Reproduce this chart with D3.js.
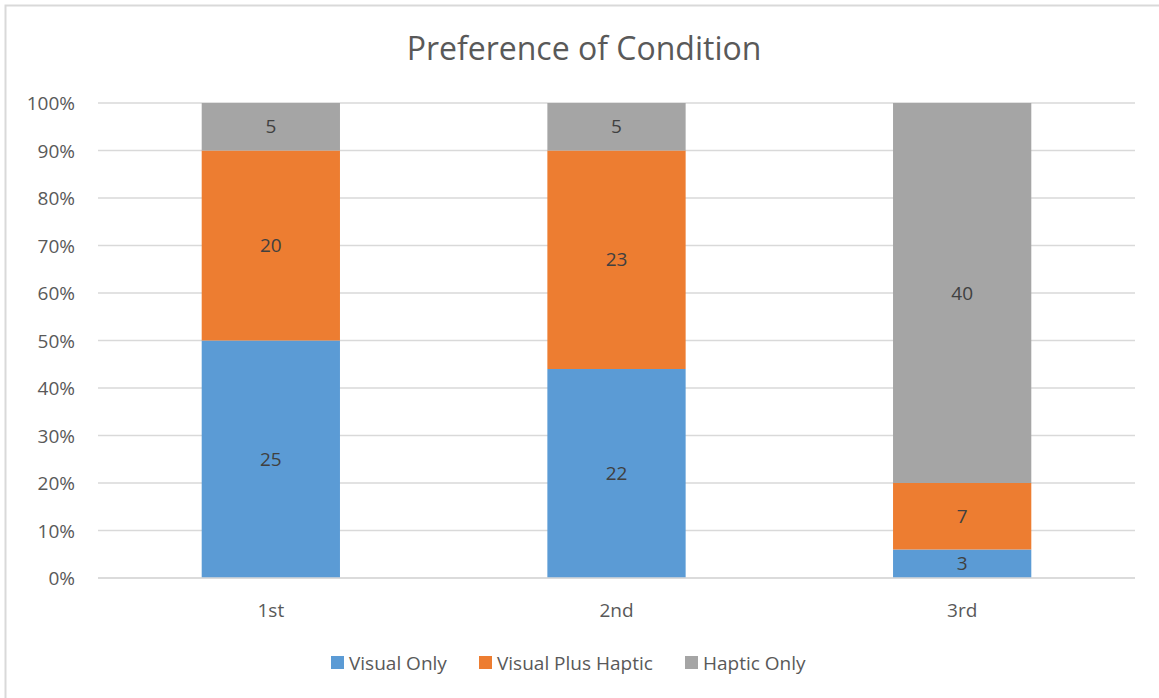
<!DOCTYPE html>
<html>
<head>
<meta charset="utf-8">
<script src="https://cdn.jsdelivr.net/npm/d3@7"></script>
<style>
  body { margin: 0; background: #fff; }
  svg { display: block; font-family: "Open Sans", "Liberation Sans", sans-serif; }
</style>
</head>
<body>
<svg id="chart" width="1159" height="698"></svg>
<script>
const categories = ["1st", "2nd", "3rd"];
const seriesNames = ["Visual Only", "Visual Plus Haptic", "Haptic Only"];
const visualOnly = [25, 22, 3];
const visualPlusHaptic = [20, 23, 7];
const hapticOnly = [5, 5, 40];
const yTicks = [0, 0.1, 0.2, 0.3, 0.4, 0.5, 0.6, 0.7, 0.8, 0.9, 1.0];
const colors = ["#5b9bd5", "#ed7d31", "#a5a5a5"];

const svg = d3.select("#chart");
const plot = { left: 98, right: 1135, top: 103, bottom: 578 };
const textColor = "#595959";
const fs = 19;

// chart border
svg.append("rect").attr("x", 5.5).attr("y", 5.5).attr("width", 1170).attr("height", 720)
  .attr("fill", "#fff").attr("stroke", "#d9d9d9").attr("stroke-width", 2);

const rows = categories.map((c, i) => ({
  cat: c,
  "Visual Only": visualOnly[i],
  "Visual Plus Haptic": visualPlusHaptic[i],
  "Haptic Only": hapticOnly[i]
}));
const normalized = rows.map(r => {
  const tot = seriesNames.reduce((s, k) => s + r[k], 0);
  const o = { cat: r.cat };
  seriesNames.forEach(k => o[k] = r[k] / tot);
  return o;
});
const stack = d3.stack().keys(seriesNames)(normalized);

const x = d3.scaleBand().domain(categories).range([plot.left, plot.right]).paddingInner(0.6).paddingOuter(0.3);
const y = d3.scaleLinear().domain([0, 1]).range([plot.bottom, plot.top]);

// gridlines
svg.append("g").selectAll("line").data(yTicks).join("line")
  .attr("x1", plot.left).attr("x2", plot.right)
  .attr("y1", d => y(d)).attr("y2", d => y(d))
  .attr("stroke", "#d9d9d9").attr("stroke-width", 1.5);

// y-axis labels
const yAxis = d3.axisLeft(y).tickValues(yTicks).tickFormat(d3.format(".0%")).tickSize(0).tickPadding(0);
const yg = svg.append("g").attr("transform", `translate(${plot.left - 23},0)`).call(yAxis);
yg.select(".domain").remove();
yg.selectAll("text").attr("fill", textColor).attr("font-size", fs)
  .attr("font-family", '"Open Sans", sans-serif').attr("dy", "0.35em");

// bars
const layers = svg.append("g").selectAll("g").data(stack).join("g")
  .attr("fill", (d, i) => colors[i]);
layers.selectAll("rect").data(d => d).join("rect")
  .attr("x", d => x(d.data.cat))
  .attr("width", x.bandwidth())
  .attr("y", d => y(d[1]))
  .attr("height", d => y(d[0]) - y(d[1]));

// data labels
stack.forEach((layer, si) => {
  svg.append("g").selectAll("text").data(layer).join("text")
    .attr("x", d => x(d.data.cat) + x.bandwidth() / 2)
    .attr("y", d => (y(d[0]) + y(d[1])) / 2)
    .attr("dy", "0.35em")
    .attr("text-anchor", "middle")
    .attr("fill", "#404040")
    .attr("font-size", fs)
    .text((d, i) => rows[i][seriesNames[si]]);
});

// baseline axis line
svg.append("line").attr("x1", plot.left).attr("x2", plot.right)
  .attr("y1", plot.bottom).attr("y2", plot.bottom)
  .attr("stroke", "#d9d9d9").attr("stroke-width", 1.5);

// x-axis labels
const xAxis = d3.axisBottom(x).tickSize(0).tickPadding(0);
const xg = svg.append("g").attr("transform", `translate(0,${plot.bottom + 32})`).call(xAxis);
xg.select(".domain").remove();
xg.selectAll("text").attr("fill", textColor).attr("font-size", fs)
  .attr("font-family", '"Open Sans", sans-serif').attr("dy", "0.35em");

// title
svg.append("text").attr("x", 584).attr("y", 60).attr("text-anchor", "middle")
  .attr("fill", textColor).attr("font-size", 32).text("Preference of Condition");

// legend
const legendX = [331, 479, 685];
const lg = svg.append("g").selectAll("g").data(seriesNames).join("g")
  .attr("transform", (d, i) => `translate(${legendX[i]},656)`);
lg.append("rect").attr("width", 13).attr("height", 13).attr("fill", (d, i) => colors[i]);
lg.append("text").attr("x", 18).attr("y", 7).attr("dy", "0.35em")
  .attr("fill", textColor).attr("font-size", fs).text(d => d);
</script>
</body>
</html>
